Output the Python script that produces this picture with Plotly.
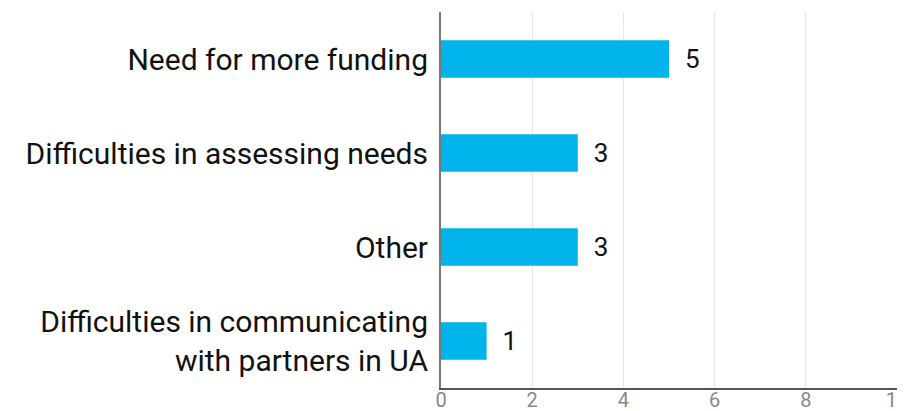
import plotly.graph_objects as go

categories = [
    "Need for more funding",
    "Difficulties in assessing needs",
    "Other",
    "Difficulties in communicating<br>with partners in UA",
]
values = [5, 3, 3, 1]
tick_vals = [0, 2, 4, 6, 8, 10]

fig = go.Figure(
    go.Bar(
        x=values,
        y=categories,
        orientation="h",
        marker=dict(color="#00B4EB", line=dict(width=0)),
        texttemplate="\u00a0\u00a0%{x}",
        textposition="outside",
        textfont=dict(size=26, color="#111111"),
        cliponaxis=False,
        width=0.4,
        hoverinfo="x+y",
    )
)

# the page body has an 8px default margin, so offsets are reduced by 8
fig.update_layout(
    width=905,
    height=411,
    margin=dict(l=433, r=16, t=4, b=31, autoexpand=False),
    paper_bgcolor="white",
    plot_bgcolor="white",
    font=dict(family="Roboto, 'DejaVu Sans', sans-serif"),
    showlegend=False,
)

fig.update_xaxes(
    range=[0, 10],
    tickvals=tick_vals,
    showgrid=True,
    gridcolor="#E6E6E6",
    gridwidth=1,
    showline=True,
    linecolor="#555555",
    linewidth=2,
    zeroline=False,
    tickfont=dict(size=20, color="#888888"),
    ticks="",
    ticklabelstandoff=-7,
    automargin=False,
    fixedrange=True,
)

fig.update_yaxes(
    categoryorder="array",
    categoryarray=categories[::-1],
    showline=True,
    linecolor="#777777",
    linewidth=2,
    showgrid=False,
    ticks="",
    ticklabelstandoff=5,
    tickfont=dict(size=30, color="#111111"),
    automargin=False,
    fixedrange=True,
)

fig.write_html("out.html")
